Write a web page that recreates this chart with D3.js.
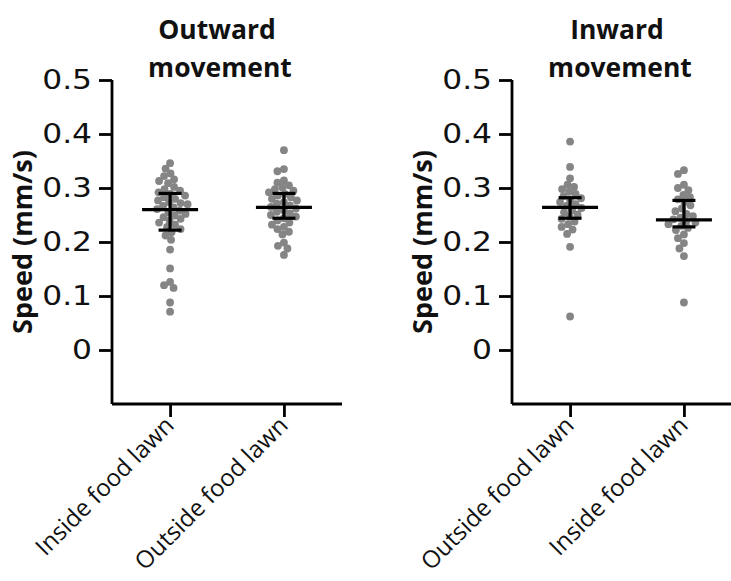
<!DOCTYPE html>
<html>
<head>
<meta charset="utf-8">
<script src="https://cdn.jsdelivr.net/npm/d3@7"></script>
<style>
  html, body { margin: 0; padding: 0; background: #fff; }
  svg { display: block; }
  .ytick { font-family: "DejaVu Sans", Verdana, sans-serif; }
  .os { font-family: "Open Sans", sans-serif; }
</style>
</head>
<body>
<svg id="chart" width="731" height="581"></svg>
<script>
// ---- Data ----
const panelTitles = [["Outward", "movement"], ["Inward", "movement"]];
const outwardCategories = ["Inside food lawn", "Outside food lawn"];
const inwardCategories = ["Outside food lawn", "Inside food lawn"];
const yTickValues = [0, 0.1, 0.2, 0.3, 0.4, 0.5];
const yLabel = "Speed (mm/s)";

const outwardInside = [0.346, 0.336, 0.327, 0.322, 0.316, 0.313, 0.309, 0.302, 0.298, 0.295, 0.292, 0.289,
  0.286, 0.283, 0.280, 0.277, 0.274, 0.272, 0.270, 0.267, 0.264, 0.261, 0.258, 0.255, 0.252, 0.249, 0.246,
  0.243, 0.240, 0.236, 0.232, 0.228, 0.224, 0.218, 0.212, 0.204, 0.186, 0.151, 0.126, 0.120, 0.115, 0.088, 0.071];
const outwardOutside = [0.370, 0.335, 0.331, 0.314, 0.310, 0.305, 0.301, 0.298, 0.295, 0.292, 0.289, 0.286,
  0.283, 0.280, 0.277, 0.274, 0.271, 0.268, 0.265, 0.262, 0.259, 0.256, 0.253, 0.250, 0.247, 0.244, 0.240,
  0.236, 0.232, 0.228, 0.224, 0.219, 0.214, 0.199, 0.193, 0.188, 0.176];
const inwardOutside = [0.386, 0.339, 0.318, 0.306, 0.302, 0.298, 0.293, 0.289, 0.285, 0.281, 0.278, 0.274,
  0.270, 0.267, 0.263, 0.259, 0.255, 0.251, 0.247, 0.243, 0.238, 0.233, 0.228, 0.223, 0.215, 0.191, 0.062];
const inwardInside = [0.333, 0.326, 0.306, 0.300, 0.296, 0.287, 0.283, 0.279, 0.274, 0.268, 0.262, 0.257,
  0.252, 0.248, 0.245, 0.242, 0.239, 0.236, 0.233, 0.230, 0.226, 0.222, 0.214, 0.207, 0.198, 0.188, 0.174, 0.088];

// central value and error bar limits per group
const outwardCenter = [0.260, 0.264];
const outwardLow = [0.222, 0.244];
const outwardHigh = [0.290, 0.290];
const inwardCenter = [0.264, 0.241];
const inwardLow = [0.244, 0.228];
const inwardHigh = [0.282, 0.277];

const panels = [
  { title: panelTitles[0], cats: outwardCategories, values: [outwardInside, outwardOutside],
    center: outwardCenter, low: outwardLow, high: outwardHigh, ox: 112 },
  { title: panelTitles[1], cats: inwardCategories, values: [inwardOutside, inwardInside],
    center: inwardCenter, low: inwardLow, high: inwardHigh, ox: 512 }
];

// ---- Drawing ----
const svg = d3.select("#chart");
const y = d3.scaleLinear().domain([-0.1, 0.5]).range([404, 80]);
const plotW = 230;
const R = 3.9, D = 6.8;

function swarm(vals, xc) {
  const placed = [];
  const sorted = vals.slice().sort((a, b) => b - a);
  sorted.forEach(v => {
    const py = y(v);
    let best = 0;
    for (let k = 0; k < 200; k++) {
      const off = (k % 2 === 0 ? 1 : -1) * Math.ceil(k / 2) * 0.5;
      const ok = placed.every(p => Math.hypot(p.x - (xc + off), p.y - py) >= D);
      if (ok) { best = off; break; }
    }
    placed.push({ x: xc + best, y: py });
  });
  return placed;
}

panels.forEach(p => {
  const g = svg.append("g").attr("transform", `translate(${p.ox},0)`);
  const x = d3.scalePoint().domain(p.cats).range([0, plotW]).padding(0.51);

  // y axis
  const ya = g.append("g").call(
    d3.axisLeft(y).tickValues(yTickValues).tickSize(13).tickSizeOuter(0).tickPadding(7)
      .tickFormat(d => d === 0 ? "0" : d3.format(".1f")(d)));
  ya.attr("font-family", null).attr("font-size", null);
  ya.select(".domain").attr("stroke-width", 2.8).attr("d", `M0,${y(0.5)}V${y(-0.1)}`);
  ya.selectAll(".tick line").attr("stroke-width", 2.8);
  ya.selectAll(".tick text").attr("class", "ytick").style("font-size", "27px").attr("fill", "#111")
    .attr("x", 0).attr("transform", "translate(-20,0) scale(1.16,1)");

  // x axis
  const xa = g.append("g").attr("transform", `translate(0,${y(-0.1)})`).call(
    d3.axisBottom(x).tickSize(13).tickSizeOuter(0));
  xa.attr("font-family", null).attr("font-size", null);
  xa.select(".domain").attr("stroke-width", 2.8).attr("d", `M0,0H${plotW}`);
  xa.selectAll(".tick line").attr("stroke-width", 2.8);
  xa.selectAll(".tick text")
    .attr("class", "os").style("font-size", "24px").attr("fill", "#111")
    .attr("text-anchor", "end")
    .attr("transform", "translate(-7,11) rotate(-45)")
    .attr("dy", "0.7em").attr("y", 0).attr("x", 0);

  // y label
  g.append("text")
    .attr("class", "os")
    .attr("transform", `translate(-80,${y(0.2)}) rotate(-90)`)
    .attr("text-anchor", "middle")
    .style("font-weight", "bold").style("font-size", "27px")
    .attr("fill", "#111").text(yLabel);

  // title
  g.append("text").attr("class", "os").attr("x", 105).attr("y", 39).attr("text-anchor", "middle")
    .style("font-weight", "bold").style("font-size", "26.5px")
    .attr("fill", "#111").text(p.title[0]);
  g.append("text").attr("class", "os").attr("x", 108).attr("y", 77).attr("text-anchor", "middle")
    .style("font-weight", "bold").style("font-size", "26.5px")
    .attr("fill", "#111").text(p.title[1]);

  // points
  p.cats.forEach((c, i) => {
    const pts = swarm(p.values[i], x(c));
    g.append("g").selectAll("circle").data(pts).join("circle")
      .attr("cx", d => d.x).attr("cy", d => d.y).attr("r", R)
      .attr("fill", "#858585");
  });

  // error bars
  p.cats.forEach((c, i) => {
    const xc = x(c);
    const eg = g.append("g").attr("stroke", "#000").attr("stroke-width", 3.2);
    eg.append("line").attr("x1", xc).attr("x2", xc).attr("y1", y(p.low[i])).attr("y2", y(p.high[i]));
    eg.append("line").attr("x1", xc - 11.5).attr("x2", xc + 11.5).attr("y1", y(p.low[i])).attr("y2", y(p.low[i]));
    eg.append("line").attr("x1", xc - 11.5).attr("x2", xc + 11.5).attr("y1", y(p.high[i])).attr("y2", y(p.high[i]));
    eg.append("line").attr("x1", xc - 28).attr("x2", xc + 28).attr("y1", y(p.center[i])).attr("y2", y(p.center[i]));
  });
});
</script>
</body>
</html>
